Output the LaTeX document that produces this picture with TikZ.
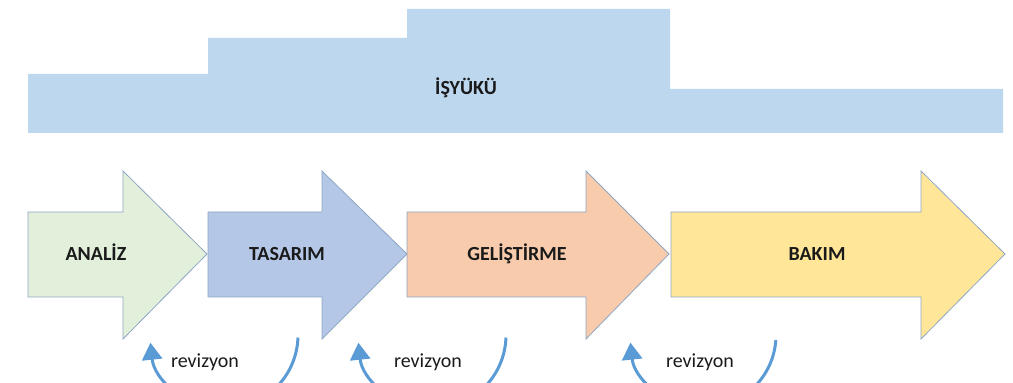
\documentclass[tikz,border=0pt]{standalone}
\usepackage{fontspec}
\setmainfont{Carlito}
\usetikzlibrary{arrows.meta}
\definecolor{load}{HTML}{BDD7EE}
\definecolor{gA}{HTML}{E2EFDA}
\definecolor{gB}{HTML}{B4C7E7}
\definecolor{gC}{HTML}{F8CBAD}
\definecolor{gD}{HTML}{FFE699}
\definecolor{edge}{HTML}{8EA6C4}
\definecolor{revblue}{HTML}{5B9BD5}
\definecolor{txt}{HTML}{1A1A1A}
\begin{document}
\begin{tikzpicture}[x=1pt,y=1pt,
  lbl/.style={font=\bfseries\fontsize{20}{22}\selectfont, text=txt, anchor=base},
  stage/.style={draw=edge, line width=0.8pt, line join=miter},
  rev/.style={draw=revblue, line width=3pt, -{Triangle[width=20pt,length=17pt]}},
  revtxt/.style={font=\fontsize{20}{22}\selectfont, text=txt, anchor=base}]
\useasboundingbox (0,0) rectangle (1013,383);
\begin{scope}
\clip (0,0) rectangle (1013,383);
% workload band
\fill[load] (28,250) -- (28,309) -- (208,309) -- (208,345) -- (407,345) -- (407,374)
  -- (670,374) -- (670,294) -- (1003,294) -- (1003,250) -- cycle;
\node[lbl] (load) at (466,288) {İŞYÜKÜ};
% stage arrows
\fill[gA,stage] (28,86) -- (28,171) -- (123,171) -- (123,212) -- (207,129) -- (123,44) -- (123,86) -- cycle;
\fill[gB,stage] (208,86) -- (208,171) -- (322,171) -- (322,212) -- (407,129) -- (322,44) -- (322,86) -- cycle;
\fill[gC,stage] (407,86) -- (407,171) -- (586,171) -- (586,212) -- (669,129) -- (586,44) -- (586,86) -- cycle;
\fill[gD,stage] (671,86) -- (671,171) -- (921,171) -- (921,212) -- (1005,129) -- (921,44) -- (921,86) -- cycle;
\node[lbl] (analiz) at (96,122.5) {ANALİZ};
\node[lbl] (tasarim) at (287,122.5) {TASARIM};
\node[lbl] (gelistirme) at (517,122.5) {GELİŞTİRME};
\node[lbl] (bakim) at (817,122.5) {BAKIM};
% revision loops
\coordinate (c1) at (224,48);
\coordinate (c2) at (432,48);
\coordinate (c3) at (703,48);
\draw[rev] ([shift={(-2:74)}]c1) arc[start angle=-2, end angle=-174, radius=74];
\draw[rev] ([shift={(-2:74)}]c2) arc[start angle=-2, end angle=-174, radius=74];
\draw[rev] ([shift={(-4:73)}]c3) arc[start angle=-4, end angle=-174, radius=73];
\node[revtxt] (r1) at (205,15) {revizyon};
\node[revtxt] (r2) at (428,15) {revizyon};
\node[revtxt] (r3) at (700,15) {revizyon};
\end{scope}
\end{tikzpicture}
\end{document}
